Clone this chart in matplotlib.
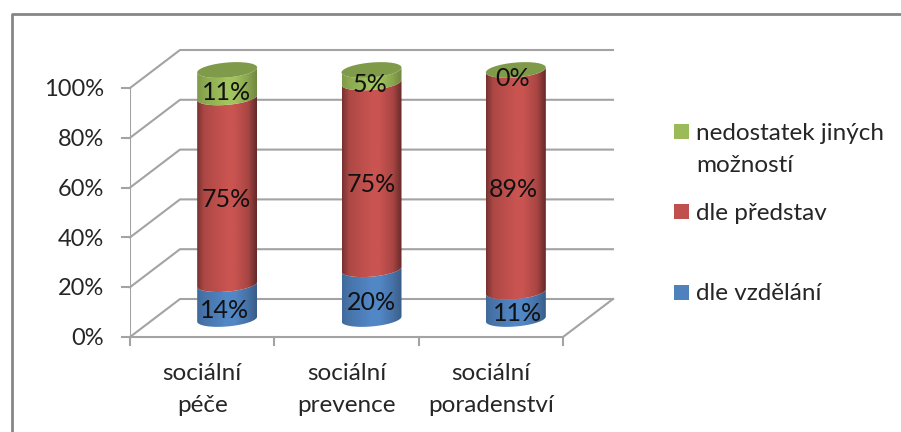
import numpy as np
import matplotlib
matplotlib.use("Agg")
import matplotlib.pyplot as plt
from matplotlib.colors import to_rgb
from matplotlib.lines import Line2D
from matplotlib.patches import Polygon, Rectangle

# share of answers per field, stacked bottom to top
categories = ["sociální\npéče", "sociální\nprevence", "sociální\nporadenství"]
dle_vzdelani = [14, 20, 11]
dle_predstav = [75, 75, 89]
nedostatek = [11, 5, 0]
series_names = ["dle vzdělání", "dle představ", "nedostatek jiných\nmožností"]
y_ticks = [0, 20, 40, 60, 80, 100]

W, H = 901, 432
FONT = "Lato"
TEXT = "#262626"
GRID = "#a3a3a3"
colors = ["#4f81bd", "#c0504d", "#9bbb59"]
edge_gain = [0.8, 0.6, 0.8]
top_color = "#7f9a49"

plt.rcParams["font.family"] = FONT

fig = plt.figure(figsize=(W / 100, H / 100), dpi=100)
ax = fig.add_axes([130 / W, 1 - 337 / H, 433 / W, 249 / H])
ax.axis("off")

# depth of the 3d box in data units
dx = 50 / 433 * 3
dy = 38 / 249 * 100
# cylinder ellipse in data units
rx = 30 / 433 * 3
ry = 3.0
tilt = 1.0


def fx(x):
    return x / W


def fy(y):
    return 1 - y / H


def arc(cx, base, start, stop):
    t = np.linspace(start, stop, 60)
    return np.column_stack([cx + rx * np.cos(t), base + ry * np.sin(t) + tilt * np.cos(t)])


def shaded(color, edge):
    # bright in the middle, dark towards both edges
    pos = np.linspace(0, 1, 200)
    gain = np.interp(pos, [0, 0.12, 0.5, 0.62, 0.85, 1],
                     [edge + 0.02, 0.9, 1.05, 1.05, 0.88, edge - 0.08])
    return np.clip(np.outer(gain, to_rgb(color)), 0, 1)[np.newaxis, :, :]


def side(cx, low, high, color, edge):
    front_low = arc(cx, low, np.pi, 2 * np.pi)
    front_high = arc(cx, high, 2 * np.pi, np.pi)
    clip = Polygon(np.vstack([front_low, front_high]), closed=True, transform=ax.transData,
                   fc="none", ec="none", clip_on=False)
    ax.add_patch(clip)
    im = ax.imshow(shaded(color, edge), extent=[cx - rx, cx + rx, low - 6, high + 6],
                   aspect="auto", zorder=3, interpolation="bilinear")
    im.set_clip_path(clip)
    im.set_clip_box(fig.bbox)


# walls and floor
for tick in y_ticks:
    ax.plot([0, dx, 3 + dx], [tick, tick + dy, tick + dy], color=GRID, lw=1.5, clip_on=False, zorder=1)
    ax.plot([-8 / 433 * 3, 0], [tick, tick], color=GRID, lw=1.5, clip_on=False, zorder=1)
    ax.text(-26 / 433 * 3, tick - 0.7, f"{tick}%", ha="right", va="center", fontsize=17, color=TEXT)
ax.plot([0, 0], [0, 100], color=GRID, lw=1.5, zorder=1)
ax.plot([0, 3, 3 + dx], [0, 0, dy], color=GRID, lw=1.5, clip_on=False, zorder=1)
for i in range(4):
    ax.plot([i, i], [0, -8 / 249 * 100], color=GRID, lw=1.5, clip_on=False, zorder=1)

label_nudge = [[-3, -1, -1], [0, 0, -2], [2, -3, -3]]

for i, name in enumerate(categories):
    cx = i + 0.5 + dx / 2
    base = dy / 2 - 0.4
    low = base
    values = [dle_vzdelani[i], dle_predstav[i], nedostatek[i]]
    for j, val in enumerate(values):
        if val > 0:
            side(cx, low, low + val, colors[j], edge_gain[j])
        ax.text(cx + label_nudge[i][j] * 3 / 433, low + val / 2 - 3.4, f"{val}%",
                ha="center", va="center", fontsize=18, color="#111111", zorder=5, clip_on=False)
        low += val
    ax.add_patch(Polygon(arc(cx, low, 0, 2 * np.pi), closed=True, fc=top_color, ec="none",
                         zorder=4, clip_on=False))
    ax.text(i + 0.5, -10.3, name, ha="center", va="top", fontsize=17.5, color=TEXT, linespacing=1.67)

ax.set_xlim(0, 3)
ax.set_ylim(0, 100)

# legend, top entry first
legend_rows = [(2, 123.5, 133), (1, 204, 213), (0, 285, 294)]
for j, box_y, text_y in legend_rows:
    fig.add_artist(Rectangle((fx(674), fy(box_y + 15)), 15 / W, 15 / H, transform=fig.transFigure,
                             fc=colors[j], ec="none"))
    first = series_names[j].split("\n")
    for k, line in enumerate(first):
        fig.text(fx(696), fy(text_y + k * 33), line, ha="left", va="center", fontsize=17.5, color=TEXT)

# outer chart frame, cut off on the right and at the bottom
fig.add_artist(Line2D([fx(12), fx(12), fx(W)], [fy(H), fy(14), fy(14)], color="#868686", lw=2,
                      transform=fig.transFigure))

fig.savefig("out.png", dpi=100)
